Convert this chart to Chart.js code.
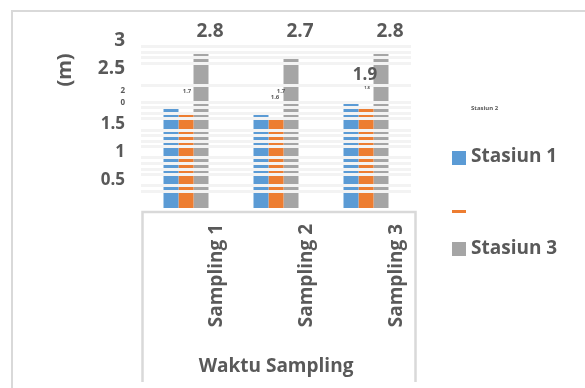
<!DOCTYPE html>
<html>
<head>
<meta charset="utf-8">
<script src="https://cdn.jsdelivr.net/npm/chart.js@4.4.0/dist/chart.umd.min.js"></script>
<style>
  html, body { margin: 0; padding: 0; background: #fff; }
  canvas { display: block; }
</style>
</head>
<body>
<canvas id="chart" width="585" height="388"></canvas>
<script>
// Water depth per station at each sampling time
const categories = ['Sampling 1', 'Sampling 2', 'Sampling 3'];
const seriesNames = ['Stasiun 1', 'Stasiun 2', 'Stasiun 3'];
const stasiun1 = [1.8, 1.7, 1.9];
const stasiun2 = [1.7, 1.6, 1.8];
const stasiun3 = [2.8, 2.7, 2.8];
const yTicks = [0, 0.5, 1, 1.5, 2, 2.5, 3];
const minorLines = [0.3, 0.4, 0.6, 0.7, 0.8, 0.9, 1.1, 1.2, 1.3, 1.4, 1.6, 1.7, 1.8, 1.9, 2.2, 2.6, 2.7, 2.8, 2.9];
const xTitle = 'Waktu Sampling';
const yTitle = '(m)';

const FONT = '"Open Sans", Lato, sans-serif';
const TEXT = '#595959';
const colors = ['#5B9BD5', '#ED7D31', '#A5A5A5'];
const seriesValues = [stasiun1, stasiun2, stasiun3];

// Value labels: which bars carry one, and how they are set
const valueLabels = [
  { ds: 2, i: 0, size: 19, dx: 9, top: -9 },
  { ds: 2, i: 1, size: 19, dx: 9, top: -9 },
  { ds: 2, i: 2, size: 19, dx: 9, top: -9 },
  { ds: 0, i: 2, size: 17, dx: 14, above: 27 },
  { ds: 1, i: 0, size: 6, dx: 1, above: 22 },
  { ds: 0, i: 1, size: 6, dx: 20, above: 22 },
  { ds: 1, i: 1, size: 6, dx: -1, above: 22 },
  { ds: 1, i: 2, size: 4, dx: 1, above: 20 }
];

const framePlugin = {
  id: 'frame',
  beforeDraw(chart) {
    const ctx = chart.ctx;
    ctx.save();
    ctx.fillStyle = '#fff';
    ctx.fillRect(0, 0, chart.width, chart.height);
    ctx.strokeStyle = '#d9d9d9';
    ctx.lineWidth = 2;
    ctx.beginPath();
    ctx.moveTo(12, chart.height);
    ctx.lineTo(12, 11);
    ctx.lineTo(chart.width, 11);
    ctx.stroke();
    ctx.restore();
  },
  afterDraw(chart) {
    const ctx = chart.ctx;
    const a = chart.chartArea;
    ctx.save();
    // category axis box
    ctx.strokeStyle = '#d9d9d9';
    ctx.lineWidth = 2.5;
    ctx.beginPath();
    ctx.moveTo(a.left + 1.5, 382);
    ctx.lineTo(a.left + 1.5, a.bottom + 4);
    ctx.lineTo(a.right + 4.5, a.bottom + 4);
    ctx.lineTo(a.right + 4.5, 382);
    ctx.stroke();

    // y axis title
    ctx.fillStyle = TEXT;
    ctx.font = 'bold 20px ' + FONT;
    ctx.translate(65, 70);
    ctx.rotate(-Math.PI / 2);
    ctx.textAlign = 'center';
    ctx.textBaseline = 'middle';
    ctx.fillText(yTitle, 0, 0);
    ctx.restore();

    // value labels
    ctx.save();
    ctx.fillStyle = TEXT;
    ctx.textAlign = 'center';
    ctx.textBaseline = 'middle';
    valueLabels.forEach(l => {
      const bar = chart.getDatasetMeta(l.ds).data[l.i];
      const v = chart.data.datasets[l.ds].data[l.i];
      const y = l.top !== undefined ? a.top + l.top : bar.y - l.above;
      ctx.font = 'bold ' + l.size + 'px ' + FONT;
      ctx.fillText(v.toFixed(1), bar.x + l.dx, y);
    });
    ctx.restore();

    // legend
    ctx.save();
    const ds = chart.data.datasets;
    ctx.textBaseline = 'middle';
    ctx.textAlign = 'left';
    ctx.fillStyle = TEXT;
    ctx.font = 'bold 6px ' + FONT;
    ctx.fillText(ds[1].label, 471, 108);

    ctx.fillStyle = ds[0].backgroundColor;
    ctx.fillRect(452, 151, 14, 14);
    ctx.fillStyle = TEXT;
    ctx.font = 'bold 19px ' + FONT;
    ctx.fillText(ds[0].label, 471, 157);

    ctx.fillStyle = ds[1].backgroundColor;
    ctx.fillRect(452, 210, 14, 3);

    ctx.fillStyle = ds[2].backgroundColor;
    ctx.fillRect(452, 242, 14, 14);
    ctx.fillStyle = TEXT;
    ctx.fillText(ds[2].label, 471, 249);
    ctx.restore();
  }
};

new Chart(document.getElementById('chart'), {
  type: 'bar',
  data: {
    labels: categories,
    datasets: seriesNames.map((name, k) => ({
      label: name,
      data: seriesValues[k],
      backgroundColor: colors[k],
      borderWidth: 0,
      categoryPercentage: 0.5,
      barPercentage: 1.0,
      yAxisID: 'y'
    }))
  },
  options: {
    responsive: false,
    animation: false,
    devicePixelRatio: 1,
    layout: { padding: { left: 0, right: 174, top: 41, bottom: 0 } },
    plugins: {
      legend: { display: false },
      tooltip: { enabled: false }
    },
    scales: {
      x: {
        grid: { display: false, drawTicks: false },
        border: { display: false },
        ticks: {
          minRotation: 90,
          maxRotation: 90,
          padding: 16,
          labelOffset: 31,
          color: TEXT,
          font: { family: FONT, size: 19, weight: 'bold' }
        },
        title: {
          display: true,
          text: xTitle,
          color: TEXT,
          font: { family: FONT, size: 19, weight: 'bold' },
          padding: { top: 0, bottom: 10 }
        },
        afterFit(scale) { scale.height = 180; }
      },
      y: {
        min: 0,
        max: 3,
        grid: { display: false, drawTicks: false },
        border: { display: false },
        afterBuildTicks(scale) { scale.ticks = yTicks.map(v => ({ value: v })); },
        ticks: {
          padding: 16,
          color: TEXT,
          callback: v => v === 0 ? '' : (v === 2 ? ['2', '0'] : String(v)),
          font: ctx => {
            const v = ctx.tick ? ctx.tick.value : 0;
            if (v === 2) return { family: FONT, size: 8, weight: 'bold', lineHeight: 1.5 };
            if (v >= 2.5) return { family: FONT, size: 19, weight: 'bold' };
            return { family: FONT, size: 17, weight: 'bold' };
          }
        },
        afterFit(scale) { scale.width = 141; }
      },
      minor: {
        position: 'right',
        min: 0,
        max: 3,
        afterBuildTicks(scale) { scale.ticks = minorLines.map(v => ({ value: v })); },
        ticks: { display: false },
        border: { display: false },
        grid: { color: '#f3f3f3', lineWidth: 3, drawTicks: false, z: 1 },
        afterFit(scale) { scale.width = 0; }
      }
    }
  },
  plugins: [framePlugin]
});
</script>
</body>
</html>
